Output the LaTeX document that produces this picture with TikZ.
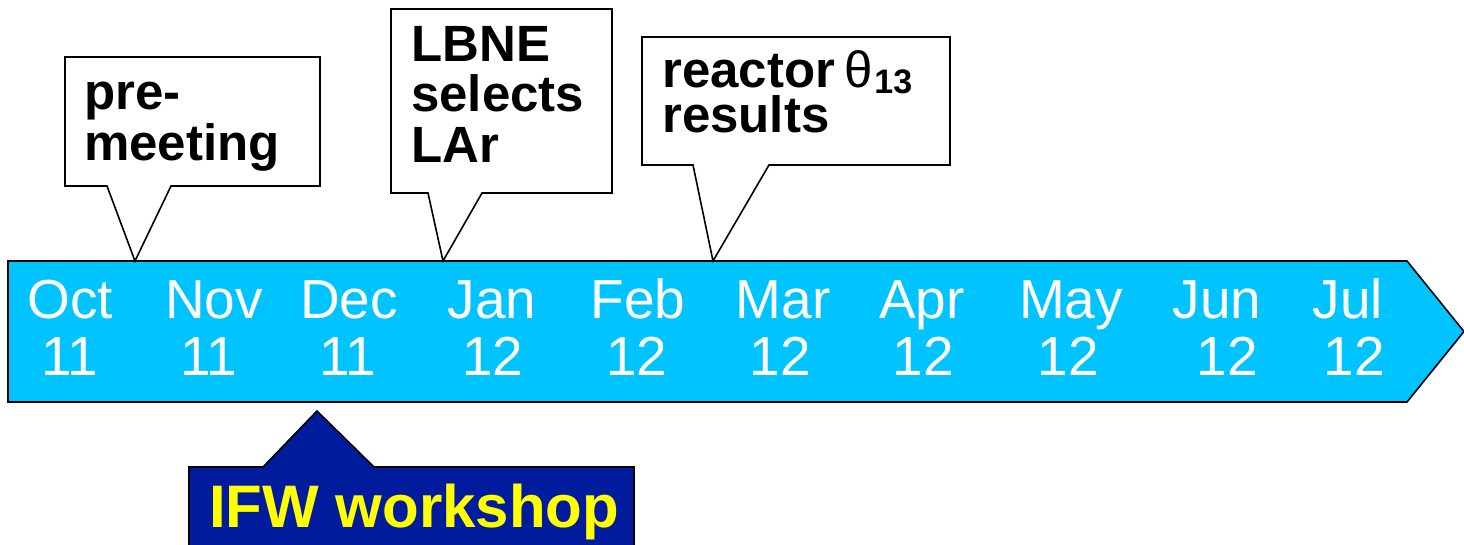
\documentclass[tikz,border=0pt]{standalone}
\usepackage{fontspec}
\setmainfont{Liberation Sans}
\definecolor{bandblue}{RGB}{0,196,255}
\definecolor{navy}{RGB}{0,28,156}
\definecolor{signyellow}{RGB}{255,255,0}

\begin{document}
\begin{tikzpicture}[x=1pt,y=-1pt,
  outline/.style={draw=black,line width=1.6pt,line join=miter},
  month/.style={text=white,font=\fontsize{55}{55}\selectfont,inner sep=0pt,anchor=base},
  note/.style={text=black,font=\fontsize{51}{51}\selectfont\bfseries,inner sep=0pt,
    text height=37pt,text depth=0pt,anchor=base west},
  banner/.style={text=signyellow,font=\fontsize{60}{60}\selectfont\bfseries,inner sep=0pt,anchor=base west}]
\useasboundingbox (0,0) rectangle (1464,545);

% timeline arrow
\draw[outline,fill=bandblue] (8,261) -- (1407,261) -- (1464,331.5) -- (1407,402) -- (8,402) -- cycle;

% months
\node[month] (m1)  at (70,318)   {Oct};  \node[month] (y1)  at (70,375)   {11};
\node[month] (m2)  at (214,318)  {Nov};  \node[month] (y2)  at (209,375)  {11};
\node[month] (m3)  at (349,318)  {Dec};  \node[month] (y3)  at (348,375)  {11};
\node[month] (m4)  at (492,318)  {Jan};  \node[month] (y4)  at (493,375)  {12};
\node[month] (m5)  at (638,318)  {Feb};  \node[month] (y5)  at (637,375)  {12};
\node[month] (m6)  at (783,318)  {Mar};  \node[month] (y6)  at (780,375)  {12};
\node[month] (m7)  at (922,318)  {Apr};  \node[month] (y7)  at (923,375)  {12};
\node[month] (m8)  at (1071,318) {May};  \node[month] (y8)  at (1068,375) {12};
\node[month] (m9)  at (1217,318) {Jun};  \node[month] (y9)  at (1227,375) {12};
\node[month] (m10) at (1348,318) {Jul};  \node[month] (y10) at (1354,375) {12};

% callout: pre-meeting
\coordinate (tipA) at (135,261);
\draw[outline,fill=white] (65,57) -- (320,57) -- (320,186) -- (171,186) -- (tipA) -- (107,186) -- (65,186) -- cycle;
\node[note] (a1) at (84,110) {pre-};
\node[note] (a2) at (84,161) {meeting};

% callout: LBNE selects LAr
\coordinate (tipB) at (443,261);
\draw[outline,fill=white] (391,9) -- (612,9) -- (612,193) -- (482,193) -- (tipB) -- (428,193) -- (391,193) -- cycle;
\node[note] (b1) at (411,62)  {LBNE};
\node[note] (b2) at (411,112) {selects};
\node[note] (b3) at (411,163) {LAr};

% callout: reactor theta13 results (two tightly set lines in one node)
\coordinate (tipC) at (713,261);
\draw[outline,fill=white] (642,37) -- (950,37) -- (950,165) -- (769,165) -- (tipC) -- (693,165) -- (642,165) -- cycle;
\node[text=black,font=\fontsize{51}{45}\selectfont\bfseries,inner sep=0pt,align=left,anchor=north west]
  (c1) at (662,50)
  {reactor\hspace{9pt}{\mdseries θ}\hspace{2pt}\raisebox{-6pt}[0pt][0pt]{\fontsize{34}{34}\selectfont 13}\\results};

% IFW workshop banner
\coordinate (tipD) at (317,411);
\draw[outline,fill=navy] (189,550) -- (189,467) -- (263,467) -- (tipD) -- (374,467) -- (634,467) -- (634,550);
\node[banner] (d1) at (209,527) {IFW workshop};
\end{tikzpicture}
\end{document}
